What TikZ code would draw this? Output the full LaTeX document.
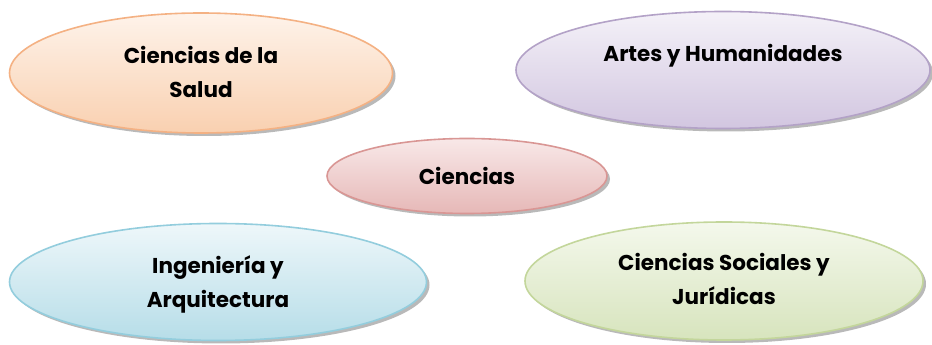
\documentclass[tikz,border=0pt]{standalone}
\usepackage{fontspec}
\setmainfont{Poppins}
\usetikzlibrary{shapes.geometric,shadows}

\definecolor{saludline}{HTML}{F4B183}
\definecolor{saludtop}{HTML}{FEF3EA}
\definecolor{saludbot}{HTML}{F9D0B0}
\definecolor{artesline}{HTML}{B3A2C7}
\definecolor{artestop}{HTML}{F4F1F8}
\definecolor{artesbot}{HTML}{D2C6E0}
\definecolor{cienline}{HTML}{D99694}
\definecolor{cientop}{HTML}{F8E8E8}
\definecolor{cienbot}{HTML}{E6B8B7}
\definecolor{ingline}{HTML}{93CDDD}
\definecolor{ingtop}{HTML}{EEF7FA}
\definecolor{ingbot}{HTML}{B6DDE8}
\definecolor{socline}{HTML}{C3D69B}
\definecolor{soctop}{HTML}{F4F8EC}
\definecolor{socbot}{HTML}{D7E4BD}

\begin{document}
\begin{tikzpicture}[x=1pt, y=1pt,
                area/.style={ellipse, line width=1.6pt, inner sep=0pt,
                        drop shadow={shadow xshift=3pt, shadow yshift=-3pt, opacity=0.55}},
                areatext/.style={align=center, font=\bfseries\fontsize{21.5}{34}\selectfont}]

                \useasboundingbox (0,0) rectangle (932,345);

                \node[area, draw=saludline, top color=saludtop, bottom color=saludbot,
                        minimum width=383, minimum height=120] (salud) at (201,272) {};
                \node[area, draw=artesline, top color=artestop, bottom color=artesbot,
                        minimum width=414, minimum height=117] (artes) at (723,275) {};
                \node[area, draw=cienline, top color=cientop, bottom color=cienbot,
                        minimum width=280, minimum height=75] (ciencias) at (467,169) {};
                \node[area, draw=ingline, top color=ingtop, bottom color=ingbot,
                        minimum width=417, minimum height=117] (ingenieria) at (218,63) {};
                \node[area, draw=socline, top color=soctop, bottom color=socbot,
                        minimum width=398, minimum height=118] (sociales) at (724,64) {};

                \node[areatext] (saludtxt) at ([yshift=1]salud.center) {Ciencias de la\\Salud};
                \node[areatext] (artestxt) at ([yshift=14]artes.center) {Artes y Humanidades};
                \node[areatext] (cienciastxt) at (ciencias) {Ciencias};
                \node[areatext] (ingenieriatxt) at ([yshift=-2]ingenieria.center) {Ingeniería y\\Arquitectura};
                \node[areatext] (socialestxt) at ([yshift=2]sociales.center) {Ciencias Sociales y\\Jurídicas};

\end{tikzpicture}
\end{document}
